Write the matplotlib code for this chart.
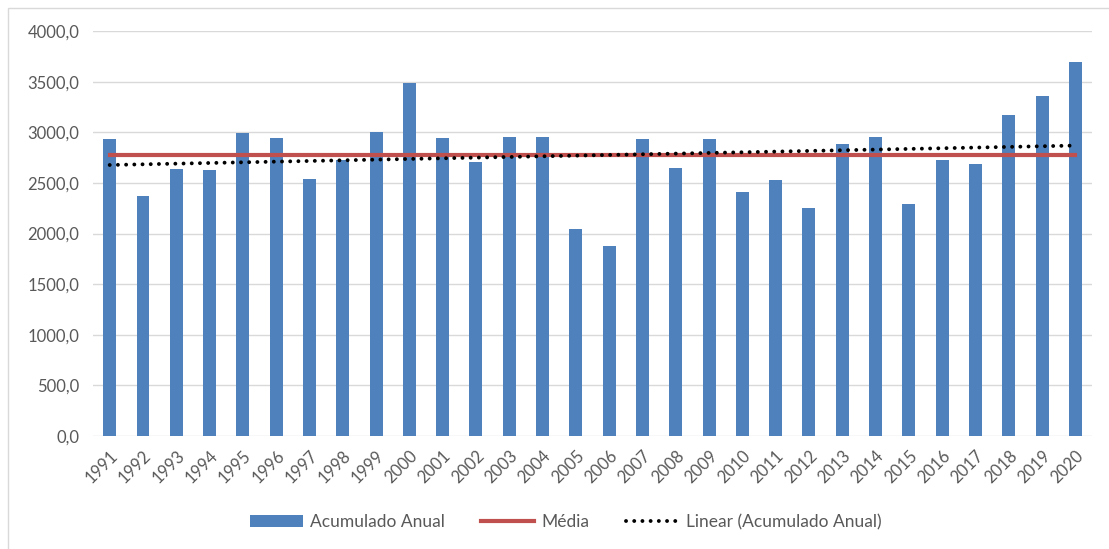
import numpy as np
import matplotlib.pyplot as plt
from matplotlib.patches import Rectangle
from matplotlib.ticker import FuncFormatter

# annual accumulated values per year
years = list(range(1991, 2021))
acumulado = [2933, 2373, 2640, 2624, 2993, 2943, 2535, 2723, 3003, 3483,
             2943, 2703, 2953, 2953, 2041, 1873, 2933, 2644, 2933, 2413,
             2525, 2252, 2884, 2953, 2295, 2723, 2683, 3174, 3361, 3694]

y_ticks = [0, 500, 1000, 1500, 2000, 2500, 3000, 3500, 4000]

plt.rcParams['font.family'] = ['Lato', 'DejaVu Sans']

x = np.arange(len(years))
vals = np.array(acumulado, dtype=float)
media = vals.mean()
coef = np.polyfit(x, vals, 1)
trend = np.polyval(coef, x)

fig = plt.figure(figsize=(11.09, 5.49), dpi=100)
ax = fig.add_axes([0.0839, 0.2058, 0.9008, 0.7377])

bars = ax.bar(x, vals, width=0.39, color="#4F81BD", label="Acumulado Anual", zorder=2)
l_media, = ax.plot(x, [media] * len(x), color="#C0504D", lw=3, label="Média", zorder=3)
l_trend, = ax.plot(x, trend, color="black", lw=2.8, linestyle=(0, (0.01, 2.1)),
                   dash_capstyle="round", label="Linear (Acumulado Anual)", zorder=4)

ax.set_xlim(-0.5, len(x) - 0.5)
ax.set_ylim(0, 4000)
ax.set_yticks(y_ticks)
ax.yaxis.set_major_formatter(FuncFormatter(lambda v, p: f"{v:.1f}".replace(".", ",")))
ax.set_xticks(x)
ax.set_xticklabels([str(y) for y in years], rotation=45, ha="right",
                   rotation_mode="anchor")
ax.tick_params(axis="both", length=0, labelsize=12, colors="#595959")
ax.tick_params(axis="x", pad=8)
ax.tick_params(axis="y", pad=10)
ax.grid(axis="y", color="#D9D9D9", lw=1, zorder=0)
ax.set_axisbelow(True)
for s in ax.spines.values():
    s.set_visible(False)

leg = fig.legend(handles=[bars, l_media, l_trend], loc="center",
                 bbox_to_anchor=(0.51, 0.049), ncol=3,
                 frameon=False, fontsize=12.5, handlelength=3.05,
                 columnspacing=2.1, handletextpad=0.4)
for t in leg.get_texts():
    t.set_color("#595959")

# light frame around the chart area
fig.patches.append(Rectangle((8 / 1109, -0.05), 1.1, 1 - 8 / 549 + 0.05,
                             transform=fig.transFigure, fill=False,
                             edgecolor="#D9D9D9", lw=1))

fig.savefig("out.png", dpi=100)
